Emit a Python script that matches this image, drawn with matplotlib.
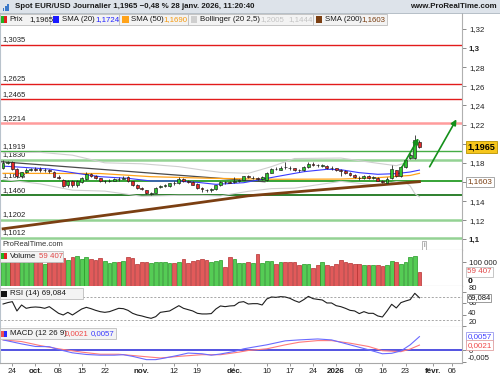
import numpy as np
import matplotlib
matplotlib.use("Agg")
import matplotlib.pyplot as plt
from matplotlib.patches import Rectangle
from matplotlib.transforms import blended_transform_factory as blend

plt.rcParams['font.family'] = ['Liberation Sans', 'DejaVu Sans']

# ---------------- data ----------------
opens = [1.1743, 1.1800, 1.1805, 1.1733, 1.1660, 1.1700, 1.1730, 1.1735, 1.1740, 1.1720,
         1.1725, 1.1705, 1.1655, 1.1625, 1.1565, 1.1615, 1.1565, 1.1600, 1.1635, 1.1685,
         1.1665, 1.1640, 1.1605, 1.1610, 1.1615, 1.1630, 1.1635, 1.1650, 1.1605, 1.1570,
         1.1535, 1.1515, 1.1478, 1.1485, 1.1545, 1.1558, 1.1555, 1.1590, 1.1590, 1.1630,
         1.1605, 1.1600, 1.1580, 1.1535, 1.1520, 1.1515, 1.1525, 1.1565, 1.1598, 1.1597,
         1.1600, 1.1608, 1.1625, 1.1660, 1.1638, 1.1640, 1.1630, 1.1625, 1.1695, 1.1738,
         1.1730, 1.1755, 1.1750, 1.1742, 1.1725, 1.1720, 1.1755, 1.1785, 1.1780, 1.1770,
         1.1770, 1.1745, 1.1742, 1.1720, 1.1712, 1.1690, 1.1672, 1.1645, 1.1640, 1.1665,
         1.1645, 1.1645, 1.1612, 1.1590, 1.1638, 1.1725, 1.1662, 1.1760, 1.1850, 1.1850,
         1.2021]
highs = [1.1830, 1.1819, 1.1818, 1.1745, 1.1705, 1.1750, 1.1750, 1.1760, 1.1760, 1.1745,
         1.1735, 1.1710, 1.1670, 1.1630, 1.1625, 1.1620, 1.1620, 1.1650, 1.1700, 1.1695,
         1.1675, 1.1645, 1.1620, 1.1630, 1.1640, 1.1650, 1.1665, 1.1665, 1.1615, 1.1575,
         1.1545, 1.1520, 1.1495, 1.1550, 1.1570, 1.1580, 1.1590, 1.1605, 1.1655, 1.1640,
         1.1620, 1.1610, 1.1585, 1.1550, 1.1530, 1.1540, 1.1570, 1.1610, 1.1610, 1.1615,
         1.1650, 1.1635, 1.1665, 1.1675, 1.1660, 1.1655, 1.1660, 1.1700, 1.1745, 1.1755,
         1.1765, 1.1805, 1.1765, 1.1750, 1.1740, 1.1765, 1.1805, 1.1805, 1.1790, 1.1790,
         1.1780, 1.1765, 1.1750, 1.1740, 1.1720, 1.1700, 1.1680, 1.1660, 1.1675, 1.1675,
         1.1660, 1.1655, 1.1620, 1.1650, 1.1777, 1.1730, 1.1765, 1.1835, 1.1905, 1.2091,
         1.2040]
lows = [1.1735, 1.1785, 1.1730, 1.1645, 1.1645, 1.1695, 1.1715, 1.1715, 1.1700, 1.1705,
        1.1690, 1.1650, 1.1630, 1.1545, 1.1550, 1.1545, 1.1545, 1.1590, 1.1625, 1.1650,
        1.1635, 1.1595, 1.1590, 1.1595, 1.1605, 1.1615, 1.1630, 1.1600, 1.1560, 1.1530,
        1.1515, 1.1470, 1.1468, 1.1480, 1.1535, 1.1545, 1.1545, 1.1570, 1.1580, 1.1595,
        1.1585, 1.1565, 1.1530, 1.1500, 1.1495, 1.1500, 1.1520, 1.1555, 1.1580, 1.1585,
        1.1590, 1.1600, 1.1620, 1.1640, 1.1630, 1.1620, 1.1620, 1.1615, 1.1690, 1.1720,
        1.1725, 1.1735, 1.1730, 1.1715, 1.1705, 1.1715, 1.1750, 1.1765, 1.1760, 1.1755,
        1.1740, 1.1730, 1.1710, 1.1665, 1.1680, 1.1665, 1.1645, 1.1620, 1.1630, 1.1635,
        1.1630, 1.1610, 1.1585, 1.1585, 1.1630, 1.1655, 1.1655, 1.1750, 1.1840, 1.1840,
        1.1952]
closes = [1.1801, 1.1805, 1.1740, 1.1665, 1.1700, 1.1730, 1.1735, 1.1730, 1.1720, 1.1725,
          1.1710, 1.1655, 1.1640, 1.1560, 1.1615, 1.1565, 1.1610, 1.1640, 1.1680, 1.1665,
          1.1640, 1.1605, 1.1610, 1.1615, 1.1628, 1.1628, 1.1645, 1.1610, 1.1570, 1.1535,
          1.1525, 1.1480, 1.1485, 1.1540, 1.1560, 1.1565, 1.1585, 1.1585, 1.1630, 1.1605,
          1.1600, 1.1570, 1.1540, 1.1530, 1.1515, 1.1525, 1.1565, 1.1600, 1.1595, 1.1593,
          1.1610, 1.1625, 1.1660, 1.1650, 1.1642, 1.1635, 1.1655, 1.1695, 1.1735, 1.1735,
          1.1750, 1.1752, 1.1745, 1.1725, 1.1722, 1.1755, 1.1785, 1.1780, 1.1775, 1.1773,
          1.1745, 1.1742, 1.1720, 1.1715, 1.1690, 1.1675, 1.1655, 1.1640, 1.1665, 1.1645,
          1.1648, 1.1615, 1.1600, 1.1628, 1.1732, 1.1660, 1.1753, 1.1830, 1.1880, 1.2039,
          1.1965]
volumes = [110000, 108000, 115000, 118000, 105000, 103000, 100000, 104000, 106000, 90000,
           104000, 108000, 115000, 115000, 108000, 119000, 126000, 112000, 119000, 112000,
           108000, 115000, 104000, 94500, 98600, 98600, 104000, 119000, 117000, 91800,
           98600, 101000, 97000, 98600, 98600, 101000, 97000, 94500, 101000, 112000,
           97000, 105000, 108000, 112000, 108000, 98600, 105000, 108000, 78000, 119000,
           112000, 94500, 97000, 98600, 94500, 133000, 94500, 105000, 105000, 91800,
           98600, 98600, 98600, 98600, 86200, 91800, 90400, 75300, 86200, 98600,
           86200, 84900, 91800, 107000, 98600, 94500, 91800, 91800, 86200, 86200,
           86200, 86200, 83500, 87600, 105000, 98600, 91800, 98600, 119000, 123000,
           59407]
rsi = [58.3, 60.7, 62.4, 46.2, 56.6, 50.8, 52.5, 53.1, 52.5, 50.8,
       53.7, 47.9, 42.1, 39.2, 43.8, 39.2, 44.4, 49.6, 52.5, 50.2,
       47.3, 45.0, 43.8, 45.0, 47.9, 50.8, 50.2, 47.3, 42.1, 39.2,
       37.5, 35.2, 33.4, 36.3, 43.8, 45.0, 46.2, 50.8, 55.4, 50.8,
       48.5, 46.2, 42.1, 41.0, 41.0, 41.6, 49.6, 54.9, 53.7, 54.9,
       55.4, 61.2, 62.4, 58.3, 58.9, 58.9, 56.6, 67.0, 70.5, 69.9,
       71.1, 70.5, 68.2, 64.2, 61.2, 65.9, 71.6, 67.6, 66.4, 65.3,
       60.1, 60.1, 55.4, 53.7, 50.8, 47.3, 46.2, 41.6, 45.0, 42.1,
       42.1, 37.5, 35.7, 46.2, 57.8, 51.4, 60.7, 63.5, 65.9, 76.9,
       69.084]

sma20_idx = [0, 2, 10, 16, 21, 27, 32, 37, 42, 46, 52, 59, 65, 70, 73, 77, 81, 85, 88, 90]
sma20_val = [1.1765, 1.1760, 1.1735, 1.1690, 1.1655, 1.1638, 1.1610, 1.1610, 1.1596, 1.1575,
             1.1592, 1.1655, 1.1707, 1.1732, 1.1728, 1.1697, 1.1680, 1.1687, 1.1704, 1.1724]
sma50_idx = [0, 21, 32, 45, 59, 73, 81, 88, 90]
sma50_val = [1.1690, 1.1688, 1.1655, 1.1638, 1.1628, 1.1630, 1.1645, 1.1668, 1.1690]
sma200_idx = [0, 21, 39, 53, 71, 90]
sma200_val = [1.1110, 1.1244, 1.1361, 1.1455, 1.1527, 1.1603]
boll_idx = [0, 8, 15, 22, 30, 38, 43, 47, 53, 58, 63, 73, 81, 85, 87, 88, 89, 90]
boll_up = [1.1905, 1.1910, 1.1880, 1.1800, 1.1790, 1.1760, 1.1725, 1.1700, 1.1690, 1.1760,
           1.1845, 1.1850, 1.1795, 1.1770, 1.1800, 1.1850, 1.1950, 1.2005]
boll_lo = [1.1625, 1.1580, 1.1514, 1.1504, 1.1450, 1.1460, 1.1459, 1.1454, 1.1502, 1.1530,
           1.1535, 1.1606, 1.1565, 1.1604, 1.1596, 1.1558, 1.1478, 1.1444]
macd_idx = [0, 4, 7, 10, 12, 15, 18, 21, 24, 26, 28, 31, 33, 35, 38, 40, 43, 45, 47, 50,
            52, 54, 57, 61, 64, 68, 71, 75, 79, 82, 84, 86, 88, 90]
macd_val = [0.0043, 0.0026, 0.0015, 0.0014, 0.0002, -0.0012, -0.0019, -0.0022, -0.0022, -0.0020,
            -0.0027, -0.0041, -0.0041, -0.0034, -0.0022, -0.0013, -0.0016, -0.0022, -0.0017, -0.0006,
            0.0005, 0.0012, 0.0022, 0.0039, 0.0043, 0.0047, 0.0043, 0.0022, 0.0001, -0.0016,
            -0.0014, -0.0004, 0.0022, 0.0057]
sig_idx = [0, 4, 8, 12, 17, 21, 25, 30, 34, 38, 43, 47, 51, 53, 57, 61, 64, 68, 71, 75,
           79, 82, 86, 88, 90]
sig_val = [0.0043, 0.0036, 0.0019, 0.0005, -0.0009, -0.0018, -0.0018, -0.0027, -0.0034, -0.0027,
           -0.0020, -0.0020, -0.0009, -0.0002, 0.0005, 0.0022, 0.0033, 0.0040, 0.0040, 0.0029,
           0.0015, -0.0003, -0.0007, 0.0004, 0.0021]

levels = [1.3035, 1.2625, 1.2465, 1.2214, 1.1919, 1.1830, 1.1608, 1.1460, 1.1202, 1.1012]
level_labels = ["1,3035", "1,2625", "1,2465", "1,2214", "1,1919", "1,1830", "1,1608",
                "1,1460", "1,1202", "1,1012"]
trend_idx = [-0.66, 56.6]
trend_val = [1.1812, 1.1602]
arrow1 = [(86.2, 1.1753), (89.8, 1.2057)]
arrow2 = [(92.2, 1.1759), (98.0, 1.2255)]

tick_idx = [2, 7, 12, 17, 22, 30, 37, 42, 50, 57, 62, 67, 72, 77, 82, 87, 93, 97]
tick_labels = ["24", "oct.", "08", "15", "22", "nov.", "12", "19", "déc.", "10", "17", "24",
               "2026", "09", "16", "23", "févr.", "06"]
bold_ticks = ["oct.", "nov.", "déc.", "2026", "févr."]

# "1,2" and "1,16" sit behind the last-value boxes in the reference
price_ticks = [1.10, 1.12, 1.14, 1.16, 1.18, 1.20, 1.22, 1.24, 1.26, 1.28, 1.30, 1.32]
price_tick_labels = ["1,1", "1,12", "1,14", "", "1,18", "", "1,22", "1,24", "1,26",
                     "1,28", "1,3", "1,32"]
rsi_ticks = [20, 40, 60, 80]
rsi_tick_labels = ["20", "40", "60", "80"]

# ---------------- figure ----------------
W, H = 500, 375
fig = plt.figure(figsize=(5, 3.75), dpi=100)
fig.patch.set_facecolor('white')
FS = 5.5


def fx(x):
    return x / W


def fy(y):
    return 1 - y / H


def add_ax(top, bottom):
    a = fig.add_axes([0, fy(bottom), 462 / W, (bottom - top) / H])
    a.set_xlim(-0.66, 99.2)
    a.set_facecolor('white')
    a.spines['top'].set_visible(False)
    a.spines['left'].set_color('#b9c3cc')
    a.spines['right'].set_color('#b0b0b0')
    a.spines['bottom'].set_color('#a8a8a8')
    for s in ('left', 'right', 'bottom'):
        a.spines[s].set_linewidth(0.8)
    a.yaxis.tick_right()
    a.tick_params(axis='y', labelsize=FS + 0.2, length=3, width=0.6, color='#777777',
                  pad=2, labelcolor='#222222')
    a.tick_params(axis='x', bottom=False, labelbottom=False)
    return a


def box(x0, y0, x1, y1, fc='#f3f3f3', ec='#bdbdbd', lw=0.6, z=2):
    fig.add_artist(Rectangle((fx(x0), fy(y1)), (x1 - x0) / W, (y1 - y0) / H,
                             transform=fig.transFigure, fc=fc, ec=ec, lw=lw, zorder=z))


n = len(closes)
x = np.arange(n)
O = np.array(opens); C = np.array(closes); Hh = np.array(highs); L = np.array(lows)
up = C >= O

# ---------------- main panel ----------------
ax = add_ax(13, 250)
ax.set_ylim(1.08881, 1.33673)
ax.set_yticks(price_ticks)
ax.set_yticklabels(price_tick_labels)
for t in ax.get_yticklabels():
    if t.get_text() in ("1,1", "1,2", "1,3"):
        t.set_fontweight('bold')

lcols = ['#e21b1b', '#e21b1b', '#e21b1b', '#ff9c9c', '#45ad45', '#94d294', '#36a336',
         '#0b6b0b', '#94d294', '#94d294']
lws = [1.0, 1.0, 1.0, 1.8, 1.0, 1.8, 1.4, 1.2, 1.8, 1.8]
for lv, lab, c, lw in zip(levels, level_labels, lcols, lws):
    ax.axhline(lv, color=c, lw=lw, zorder=1)
    ax.annotate(lab, xy=(0, lv), xycoords=(ax.transAxes, ax.transData),
                xytext=(2, 1.2), textcoords='offset points', fontsize=FS,
                color='#222222', va='bottom', ha='left', zorder=1.5)

ax.plot(boll_idx, boll_up, color='#cfcfcf', lw=0.8, zorder=2)
ax.plot(boll_idx, boll_lo, color='#cfcfcf', lw=0.8, zorder=2)
ax.plot(trend_idx, trend_val, color='#4a4a4a', lw=0.9, zorder=2.2)
ax.plot(sma200_idx, sma200_val, color='#7b3f12', lw=2.0, zorder=2.4)
ax.plot(sma50_idx, sma50_val, color='#ffa31a', lw=0.9, zorder=2.5)
ax.plot(sma20_idx, sma20_val, color='#3a3aff', lw=0.8, zorder=2.6)

ax.vlines(x, L, Hh, color='#2b2b2b', lw=0.6, zorder=4)
body_b = np.minimum(O, C)
body_h = np.maximum(np.abs(C - O), 0.00015)
ax.bar(x, body_h, bottom=body_b, width=0.62,
       color=np.where(up, '#2ec42e', '#e32727'), edgecolor='#1b1b1b', linewidth=0.45,
       zorder=5)

for (a0, a1) in (arrow1, arrow2):
    ax.annotate('', xy=a1, xytext=a0,
                arrowprops=dict(arrowstyle='-|>', color='#14901a', lw=1.2,
                                mutation_scale=8, shrinkA=0, shrinkB=0), zorder=6)

tr = blend(ax.transAxes, ax.transData)
ax.text(1.0115, closes[-1], "1,1965", transform=tr, fontsize=FS + 1, fontweight='bold',
        va='center', ha='left', color='black', zorder=10, clip_on=False,
        bbox=dict(boxstyle='square,pad=0.18', fc='#f6c61c', ec='#b89200', lw=0.6))
ax.text(1.0115, sma200_val[-1], "1,1603", transform=tr, fontsize=FS + 0.4,
        va='center', ha='left', color='#7b3f12', zorder=10, clip_on=False,
        bbox=dict(boxstyle='square,pad=0.18', fc='white', ec='#9a9a9a', lw=0.6))
ax.text(2 / 462, 1.0908, "ProRealTime.com", transform=tr, fontsize=FS, color='#333333',
        va='bottom', ha='left', zorder=7)
ax.text(91.0, 1.0935, "i", fontsize=FS - 0.6, color='#666666', ha='center', va='center',
        zorder=7, bbox=dict(boxstyle='square,pad=0.15', fc='white', ec='#999999', lw=0.5))

# ---------------- volume ----------------
axv = add_ax(250, 286.3)
axv.set_ylim(0, 149400)
axv.bar(x, volumes, width=0.8, color=np.where(up, '#55cc55', '#e25a5a'),
        edgecolor=np.where(up, '#249a24', '#b53030'), linewidth=0.5, zorder=3)
axv.set_yticks([100000])
axv.set_yticklabels(["100 000"])
trv = blend(axv.transAxes, axv.transData)
axv.text(1.013, 20576, "0", transform=trv, fontsize=FS + 0.6, fontweight='bold',
         va='center', ha='left', clip_on=False)
axv.text(1.0115, volumes[-1], "59 407", transform=trv, fontsize=FS + 0.3, color='#e04848',
         va='center', ha='left', clip_on=False, zorder=10,
         bbox=dict(boxstyle='square,pad=0.18', fc='white', ec='#bdbdbd', lw=0.6))

# ---------------- RSI ----------------
axr = add_ax(286.3, 327)
axr.set_ylim(18.3, 89.1)
axr.plot(x, rsi, color='#1e1e1e', lw=0.8, zorder=3)
for lv in (70, 30):
    axr.axhline(lv, color='#9a9a9a', lw=0.6, dashes=(2.5, 2), zorder=2)
axr.set_yticks(rsi_ticks)
axr.set_yticklabels(["", "", "", ""])
trr = blend(axr.transAxes, axr.transData)
# labels sit slightly off their ticks at the panel edges, as in the reference
for val, lab, ypos in zip(rsi_ticks, rsi_tick_labels, [26.5, 42.2, 58.8, 85.2]):
    axr.text(1.0135, ypos, lab, transform=trr, fontsize=FS - 0.1, color='#222222',
             va='center', ha='left', clip_on=False)
axr.text(1.0115, rsi[-1], "69,084", transform=trr, fontsize=FS, color='#111111',
         va='center', ha='left', clip_on=False, zorder=10,
         bbox=dict(boxstyle='square,pad=0.08', fc='white', ec='#8a8a8a', lw=0.6))

# ---------------- MACD ----------------
axm = add_ax(327, 363)
axm.set_ylim(-0.00553, 0.00979)
axm.axhline(0, color='#2323d8', lw=1.1, zorder=2)
axm.plot(sig_idx, sig_val, color='#ff7a7a', lw=0.8, zorder=3)
axm.plot(macd_idx, macd_val, color='#6a6aff', lw=0.8, zorder=3)
axm.set_yticks([0, -0.005])
axm.set_yticklabels(["0", ""])
trm = blend(axm.transAxes, axm.transData)
axm.text(1.0115, -0.0031, "-0,005", transform=trm, fontsize=FS + 0.2, color='#222222',
         va='center', ha='left', clip_on=False)
axm.text(1.0115, macd_val[-1], "0,0057", transform=trm, fontsize=FS + 0.3, color='#4040ff',
         va='center', ha='left', clip_on=False, zorder=10,
         bbox=dict(boxstyle='square,pad=0.18', fc='white', ec='#9a9aee', lw=0.6))
axm.text(1.0115, sig_val[-1], "0,0021", transform=trm, fontsize=FS + 0.3, color='#f04a4a',
         va='center', ha='left', clip_on=False, zorder=10,
         bbox=dict(boxstyle='square,pad=0.18', fc='white', ec='#e0a0a0', lw=0.6))
axm.tick_params(axis='x', bottom=True, labelbottom=True, length=2, width=0.6,
                color='#888888', labelsize=FS + 0.3, pad=1.5, labelcolor='#222222')
axm.set_xticks(tick_idx)
axm.set_xticklabels(tick_labels)
for t in axm.get_xticklabels():
    if t.get_text() in bold_ticks:
        t.set_fontweight('bold')

# ---------------- header & legends ----------------
box(0, 0, 500, 13, fc='#dde3ea', ec='none', lw=0, z=1)
fig.add_artist(plt.Line2D([0, 1], [fy(13), fy(13)], transform=fig.transFigure,
                          color='#aab4be', lw=0.6, zorder=2))
for bx, bh in ((3, 3), (5.2, 5), (7.4, 7)):
    box(bx, 11 - bh, bx + 1.4, 11, fc='#3a78c8', ec='none', lw=0, z=3)
fig.text(fx(15), fy(7), "Spot EUR/USD Journalier 1,1965 \u22120,48 % 28 janv. 2026, 11:20:40",
         fontsize=FS + 0.2, fontweight='bold', va='center', ha='left', color='#1a1a1a')
fig.text(fx(497), fy(7), "www.ProRealTime.com", fontsize=FS + 0.2, fontweight='bold',
         va='center', ha='right', color='#1a1a1a')

leg_boxes = [(0, 50), (50, 119.3), (119.3, 188.3), (188.3, 313.3), (313.3, 386.7)]
for x0, x1 in leg_boxes:
    box(x0, 14, x1, 24.5)
yl = 19.4
box(1.2, 16.5, 4.2, 22.5, fc='#22b322', ec='none', lw=0, z=3)
box(4.2, 16.5, 7.2, 22.5, fc='#e02020', ec='none', lw=0, z=3)
box(52.7, 16.5, 59, 22.5, fc='#1a1aff', ec='none', lw=0, z=3)
box(122.3, 16.5, 128.6, 22.5, fc='#ffa31a', ec='none', lw=0, z=3)
box(191, 16.5, 197.3, 22.5, fc='#cfcfcf', ec='none', lw=0, z=3)
box(316, 16.5, 322.3, 22.5, fc='#7b3f12', ec='none', lw=0, z=3)
leg_texts = [(9.3, "Prix", '#1a1a1a'), (29.3, "1,1965", '#1a1a1a'),
             (61.7, "SMA (20)", '#1a1a1a'), (95, "1,1724", '#2323ff'),
             (130.7, "SMA (50)", '#1a1a1a'), (163.7, "1,1690", '#f59a10'),
             (200, "Bollinger (20 2,5)", '#1a1a1a'), (260, "1,2005", '#c4c4c4'),
             (288.3, "1,1444", '#c4c4c4'), (325, "SMA (200)", '#1a1a1a'),
             (361.7, "1,1603", '#7b3f12')]
for tx, s, c in leg_texts:
    fig.text(fx(tx), fy(yl), s, fontsize=FS + 0.2, va='center', ha='left', color=c, zorder=4)

# sub-panel legends
box(0, 251, 63, 261.5)
box(1.2, 253.3, 4.2, 259.3, fc='#22b322', ec='none', lw=0, z=3)
box(4.2, 253.3, 7.2, 259.3, fc='#e02020', ec='none', lw=0, z=3)
fig.text(fx(10), fy(256.3), "Volume", fontsize=FS + 0.2, va='center', color='#1a1a1a', zorder=4)
fig.text(fx(39), fy(256.3), "59 407", fontsize=FS + 0.2, va='center', color='#e04848', zorder=4)

box(0, 288.3, 83, 298.8)
box(1.2, 290.6, 7.2, 296.6, fc='#111111', ec='none', lw=0, z=3)
fig.text(fx(10), fy(293.6), "RSI (14) 69,084", fontsize=FS + 0.2, va='center',
         color='#1a1a1a', zorder=4)

box(0, 328.3, 116, 338.8)
box(1.2, 330.6, 4.2, 336.6, fc='#f05050', ec='none', lw=0, z=3)
box(4.2, 330.6, 7.2, 336.6, fc='#2a2aff', ec='none', lw=0, z=3)
fig.text(fx(10), fy(333.6), "MACD (12 26 9)", fontsize=FS + 0.2, va='center',
         color='#1a1a1a', zorder=4)
fig.text(fx(65), fy(333.6), "0,0021", fontsize=FS + 0.2, va='center', color='#f04a4a', zorder=4)
fig.text(fx(91), fy(333.6), "0,0057", fontsize=FS + 0.2, va='center', color='#3a3aff', zorder=4)

fig.savefig("out.png", dpi=100)
